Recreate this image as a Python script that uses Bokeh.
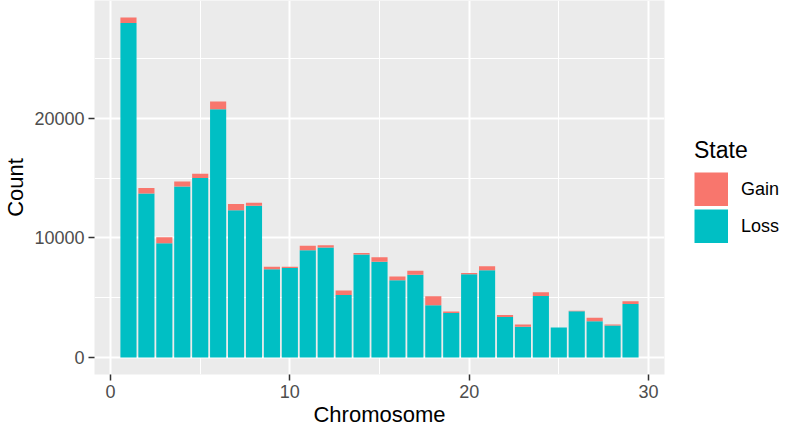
from bokeh.plotting import figure
from bokeh.models import (ColumnDataSource, Range1d, FixedTicker, Legend, LegendItem,
                          BasicTickFormatter)
from bokeh.embed import file_html
from bokeh.resources import INLINE

# ---- data ----
chromosome = list(range(1, 30))
loss = [28000, 13720, 9570, 14300, 15030, 20770, 12330, 12700, 7380, 7490,
        8970, 9210, 5220, 8610, 8010, 6470, 6920, 4380, 3720, 6970,
        7300, 3390, 2570, 5140, 2500, 3880, 3030, 2680, 4480]
gain = [450, 460, 490, 430, 350, 660, 510, 250, 220, 110,
        380, 190, 390, 140, 380, 300, 330, 740, 130, 110,
        330, 170, 190, 330, 20, 30, 300, 80, 220]
states = ["Gain", "Loss"]
colors = {"Gain": "#F8766D", "Loss": "#00BFC4"}
x_ticks = [0, 10, 20, 30]
x_minor = [5, 15, 25]
y_ticks = [0, 10000, 20000]
y_minor = [5000, 15000, 25000]

FONT = "Liberation Sans"

source = ColumnDataSource(dict(chrom=chromosome, Loss=loss, Gain=gain))

totals = [a + b for a, b in zip(loss, gain)]
ymax = max(totals)
ypad = 0.05 * ymax
xlo, xhi = min(chromosome) - 0.45, max(chromosome) + 0.45
xpad = 0.05 * (xhi - xlo)

p = figure(frame_width=570, frame_height=374, output_backend="svg",
           toolbar_location=None,
           x_range=Range1d(xlo - xpad, xhi + xpad),
           y_range=Range1d(-ypad, ymax + ypad),
           min_border_left=85, min_border_top=0, min_border_right=0,
           min_border_bottom=0)

p.background_fill_color = "#EBEBEB"
p.border_fill_color = "white"
p.outline_line_color = None

p.vbar_stack(["Loss", "Gain"], x="chrom", width=0.9,
             color=[colors["Loss"], colors["Gain"]],
             line_color=None, source=source)

# legend keys: thick line renderers holding no visible data, drawn as square keys
nan = float("nan")
key_renderers = {s: p.line(x=[nan, nan], y=[nan, nan], line_color=colors[s],
                           line_width=34, line_cap="butt")
                 for s in states}

legend = Legend(items=[LegendItem(label=s, renderers=[key_renderers[s]]) for s in states],
                location=(30, 131), title="State")
legend.title_text_font = FONT
legend.title_text_font_size = "23px"
legend.title_text_font_style = "normal"
legend.title_text_color = "black"
legend.title_standoff = 8
legend.label_text_font = FONT
legend.label_text_font_size = "18px"
legend.label_text_color = "black"
legend.glyph_width = 34
legend.glyph_height = 34
legend.label_height = 34
legend.label_standoff = 13
legend.spacing = 3
legend.padding = 0
legend.margin = 15
legend.border_line_color = None
legend.background_fill_color = None
p.add_layout(legend, "right")

# axes
for ax in (p.xaxis[0], p.yaxis[0]):
    ax.axis_line_color = None
    ax.major_tick_line_color = "#333333"
    ax.major_tick_line_width = 1.5
    ax.major_tick_in = 0
    ax.major_tick_out = 6
    ax.minor_tick_line_color = None
    ax.major_label_text_font = FONT
    ax.major_label_text_font_size = "18px"
    ax.major_label_text_color = "#4D4D4D"
    ax.axis_label_text_font = FONT
    ax.axis_label_text_font_size = "22px"
    ax.axis_label_text_font_style = "normal"
    ax.axis_label_text_color = "black"

p.xaxis.axis_label = "Chromosome"
p.yaxis.axis_label = "Count"
p.xaxis.ticker = FixedTicker(ticks=x_ticks, minor_ticks=x_minor)
p.yaxis.ticker = FixedTicker(ticks=y_ticks, minor_ticks=y_minor)
p.yaxis.formatter = BasicTickFormatter(use_scientific=False)
p.xaxis.major_label_standoff = 4
p.yaxis.major_label_standoff = 4
p.xaxis.axis_label_standoff = 1
p.yaxis.axis_label_standoff = 3

for g in (p.xgrid[0], p.ygrid[0]):
    g.grid_line_color = "white"
    g.grid_line_width = 2
    g.minor_grid_line_color = "white"
    g.minor_grid_line_width = 1
p.xgrid.ticker = FixedTicker(ticks=x_ticks, minor_ticks=x_minor)
p.ygrid.ticker = FixedTicker(ticks=y_ticks, minor_ticks=y_minor)

open("out.html", "w").write(file_html(p, INLINE))
